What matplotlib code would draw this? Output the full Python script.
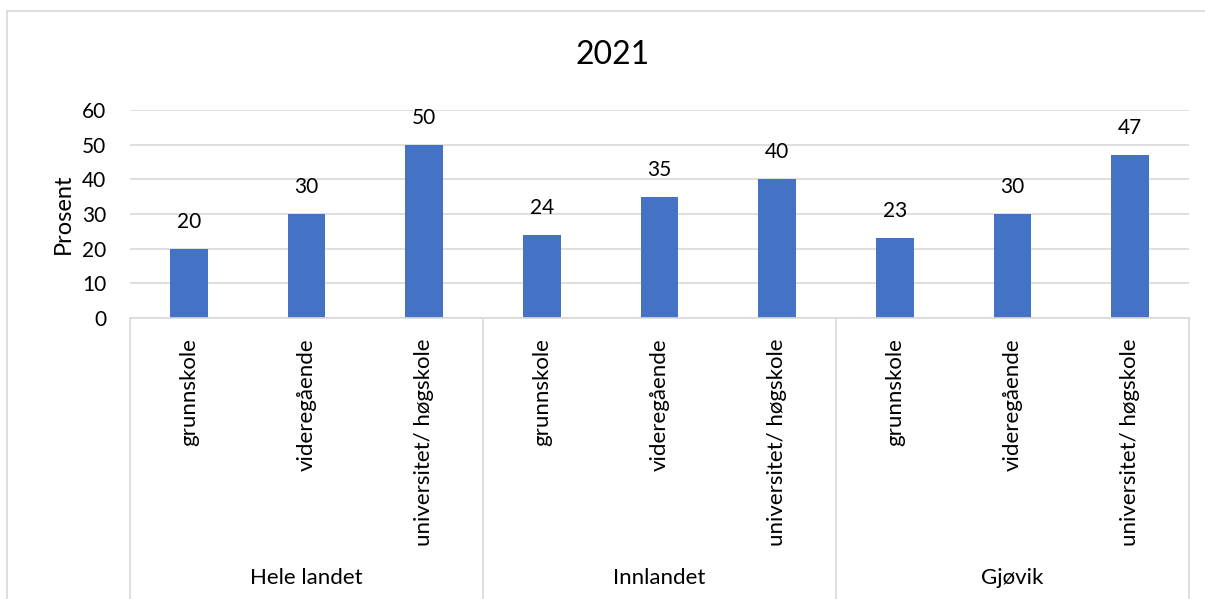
from matplotlib import pyplot as plt
from matplotlib.lines import Line2D
import numpy as np

plt.rcParams['font.family'] = ['Lato', 'DejaVu Sans']

# Data
groups = ["Hele landet", "Innlandet", "Gjøvik"]
levels = ["grunnskole", "videregående", "universitet/ høgskole"]
values = [20, 30, 50, 24, 35, 40, 23, 30, 47]

grid_col = "#d9d9d9"
bar_col = "#4472C4"

fig = plt.figure(figsize=(12.05, 5.99), dpi=100)
ax = fig.add_axes([130 / 1205, 1 - 318 / 599, 1059 / 1205, 208 / 599])

x = np.arange(len(values))
ax.bar(x, values, width=0.32, color=bar_col, zorder=3)
for xi, v in zip(x, values):
    ax.annotate(str(v), (xi, v), xytext=(0, 27), textcoords="offset pixels",
                ha="center", va="center", fontsize=15)

ax.set_xlim(-0.5, len(values) - 0.5)
ax.set_ylim(0, 60)
ax.set_yticks(range(0, 61, 10))
ax.tick_params(axis="y", length=0, labelsize=15, pad=17)
ax.set_xticks([])
ax.grid(axis="y", color=grid_col, linewidth=1.2, zorder=0)
for s in ax.spines.values():
    s.set_visible(False)
ax.set_ylabel("Prosent", fontsize=17, labelpad=6)

fig.text(613 / 1205, 1 - 55 / 599, "2021", fontsize=23, ha="center", va="center")

# x axis line and group separators
trans = ax.get_xaxis_transform()
ax.plot([-0.5, len(values) - 0.5], [0, 0], color=grid_col, lw=1.2,
        transform=trans, clip_on=False, zorder=4)
bottom = -(599 - 318) / 208
for b in np.arange(len(groups) + 1) * len(levels) - 0.5:
    ax.plot([b, b], [0, bottom], color=grid_col, lw=1.2,
            transform=trans, clip_on=False)

for i, v in enumerate(values):
    ax.text(i, -20 / 208, levels[i % len(levels)], rotation=90, ha="center",
            va="top", fontsize=16, transform=trans)
for g, name in enumerate(groups):
    ax.text(g * len(levels) + 1, -260 / 208, name, ha="center", va="center",
            fontsize=16, transform=trans)

# outer chart border (top and left edges visible)
x0 = 7 / 1205
y0 = 1 - 11 / 599
fig.lines.append(Line2D([x0, 1.0], [y0, y0], transform=fig.transFigure,
                        color=grid_col, lw=1.2))
fig.lines.append(Line2D([x0, x0], [0, y0], transform=fig.transFigure,
                        color=grid_col, lw=1.2))

fig.savefig("out.png", dpi=100)
